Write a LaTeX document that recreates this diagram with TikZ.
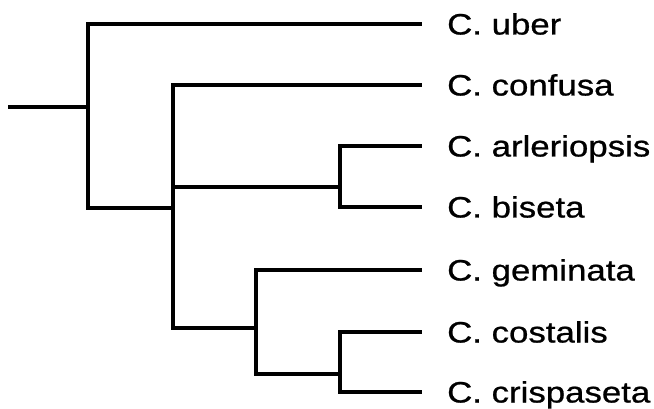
\documentclass[tikz,border=0pt]{standalone}
\usepackage{fontspec}
\setmainfont{Liberation Sans}[FakeStretch=1.18,FakeBold=0.8]
\begin{document}
\begin{tikzpicture}[x=1pt,y=-1pt,
  branch/.style={line width=4.5pt,line cap=rect,line join=miter},
  taxon/.style={anchor=base west,inner sep=0pt,font=\fontsize{29.5}{30}\selectfont}]
\useasboundingbox (0,0) rectangle (654,409);
% internal nodes
\coordinate (root) at (10,107);
\coordinate (n1) at (88,107);
\coordinate (n2) at (173,208);
\coordinate (n3) at (340,187);
\coordinate (n4) at (256,328);
\coordinate (n5) at (340,374);
% leaf tips and labels
\foreach \nm/\yy/\txt in {uber/24/C. uber, confusa/85/C. confusa, arleriopsis/146/C. arleriopsis, biseta/207/C. biseta, geminata/270/C. geminata, costalis/332/C. costalis, crispaseta/392/C. crispaseta}{
  \coordinate (t-\nm) at (420,\yy);
  \node[taxon] (\nm) at (447,\yy+10.5) {\txt};
}
% branches
\draw[branch] (root) -- (n1);
\draw[branch] (n1) |- (t-uber);
\draw[branch] (n1) |- (n2);
\draw[branch] (n2) |- (t-confusa);
\draw[branch] (n2) |- (n3);
\draw[branch] (n2) |- (n4);
\draw[branch] (n3) |- (t-arleriopsis);
\draw[branch] (n3) |- (t-biseta);
\draw[branch] (n4) |- (t-geminata);
\draw[branch] (n4) |- (n5);
\draw[branch] (n5) |- (t-costalis);
\draw[branch] (n5) |- (t-crispaseta);
\end{tikzpicture}
\end{document}
